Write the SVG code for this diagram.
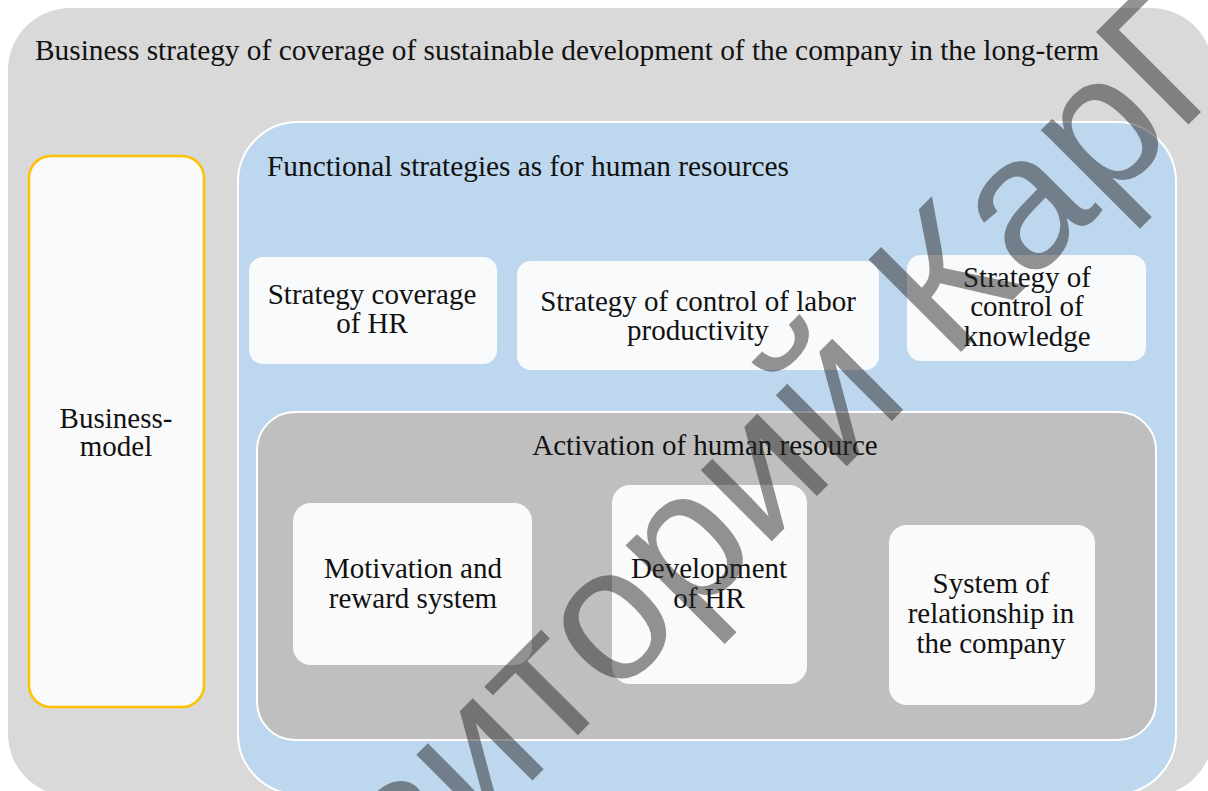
<svg xmlns="http://www.w3.org/2000/svg" width="1208" height="791" viewBox="0 0 1208 791">
<style>
text{font-family:"Liberation Serif","Times New Roman",serif;font-size:29px;fill:#111}
.c{text-anchor:middle}
.wb{fill:#f9fafc;stroke:none}
.wg{fill:#fafafa;stroke:none}
.wm{font-family:"Liberation Sans",Arial,sans-serif;font-size:190px;fill:#282828;fill-opacity:0.5}
</style>
<rect width="1208" height="791" fill="#ffffff"/>
<g id="outer">
<rect x="8" y="8" width="1205" height="788" rx="62" fill="#d9d9d9"/>
<text x="35" y="60" textLength="1064" lengthAdjust="spacingAndGlyphs">Business strategy of coverage of sustainable development of the company in the long-term</text>
</g>
<g id="business-model">
<rect x="29" y="156" width="175" height="551" rx="22" fill="#fafafa" stroke="#ffc000" stroke-width="2.5"/>
<text class="c" x="116" y="428">Business-</text>
<text class="c" x="116" y="456">model</text>
</g>
<g id="functional">
<rect x="238" y="122" width="938" height="672" rx="60" fill="#bdd7ee" stroke="#ffffff" stroke-width="2"/>
<text x="267" y="176" textLength="522" lengthAdjust="spacingAndGlyphs">Functional strategies as for human resources</text>
</g>
<g id="strategy-coverage">
<rect class="wb" x="249" y="257" width="248" height="107" rx="14"/>
<text class="c" x="372" y="304">Strategy coverage</text>
<text class="c" x="372" y="333">of HR</text>
</g>
<g id="strategy-labor">
<rect class="wb" x="517" y="261" width="362" height="109" rx="14"/>
<text class="c" x="698" y="311">Strategy of control of labor</text>
<text class="c" x="698" y="340">productivity</text>
</g>
<g id="strategy-knowledge">
<rect class="wb" x="907" y="255" width="239" height="106" rx="14"/>
<text class="c" x="1027" y="287">Strategy of</text>
<text class="c" x="1027" y="316">control of</text>
<text class="c" x="1027" y="346">knowledge</text>
</g>
<g id="activation">
<rect x="257" y="412" width="899" height="328" rx="38" fill="#bfbfbf" stroke="#ffffff" stroke-width="2"/>
<text class="c" x="705" y="455">Activation of human resource</text>
</g>
<g id="motivation">
<rect class="wg" x="293" y="503" width="239" height="162" rx="18"/>
<text class="c" x="413" y="578">Motivation and</text>
<text class="c" x="413" y="608">reward system</text>
</g>
<g id="development">
<rect class="wg" x="612" y="485" width="195" height="199" rx="18"/>
<text class="c" x="709" y="578">Development</text>
<text class="c" x="709" y="608">of HR</text>
</g>
<g id="relationship">
<rect class="wg" x="889" y="525" width="206" height="180" rx="18"/>
<text class="c" x="991" y="593">System of</text>
<text class="c" x="991" y="623">relationship in</text>
<text class="c" x="991" y="653">the company</text>
</g>
<g id="connectors"></g>
<g id="watermark">
<text class="wm" x="112" y="1201" transform="rotate(-45 112 1201)">Репозиторий КарГУ</text>
</g>
</svg>
